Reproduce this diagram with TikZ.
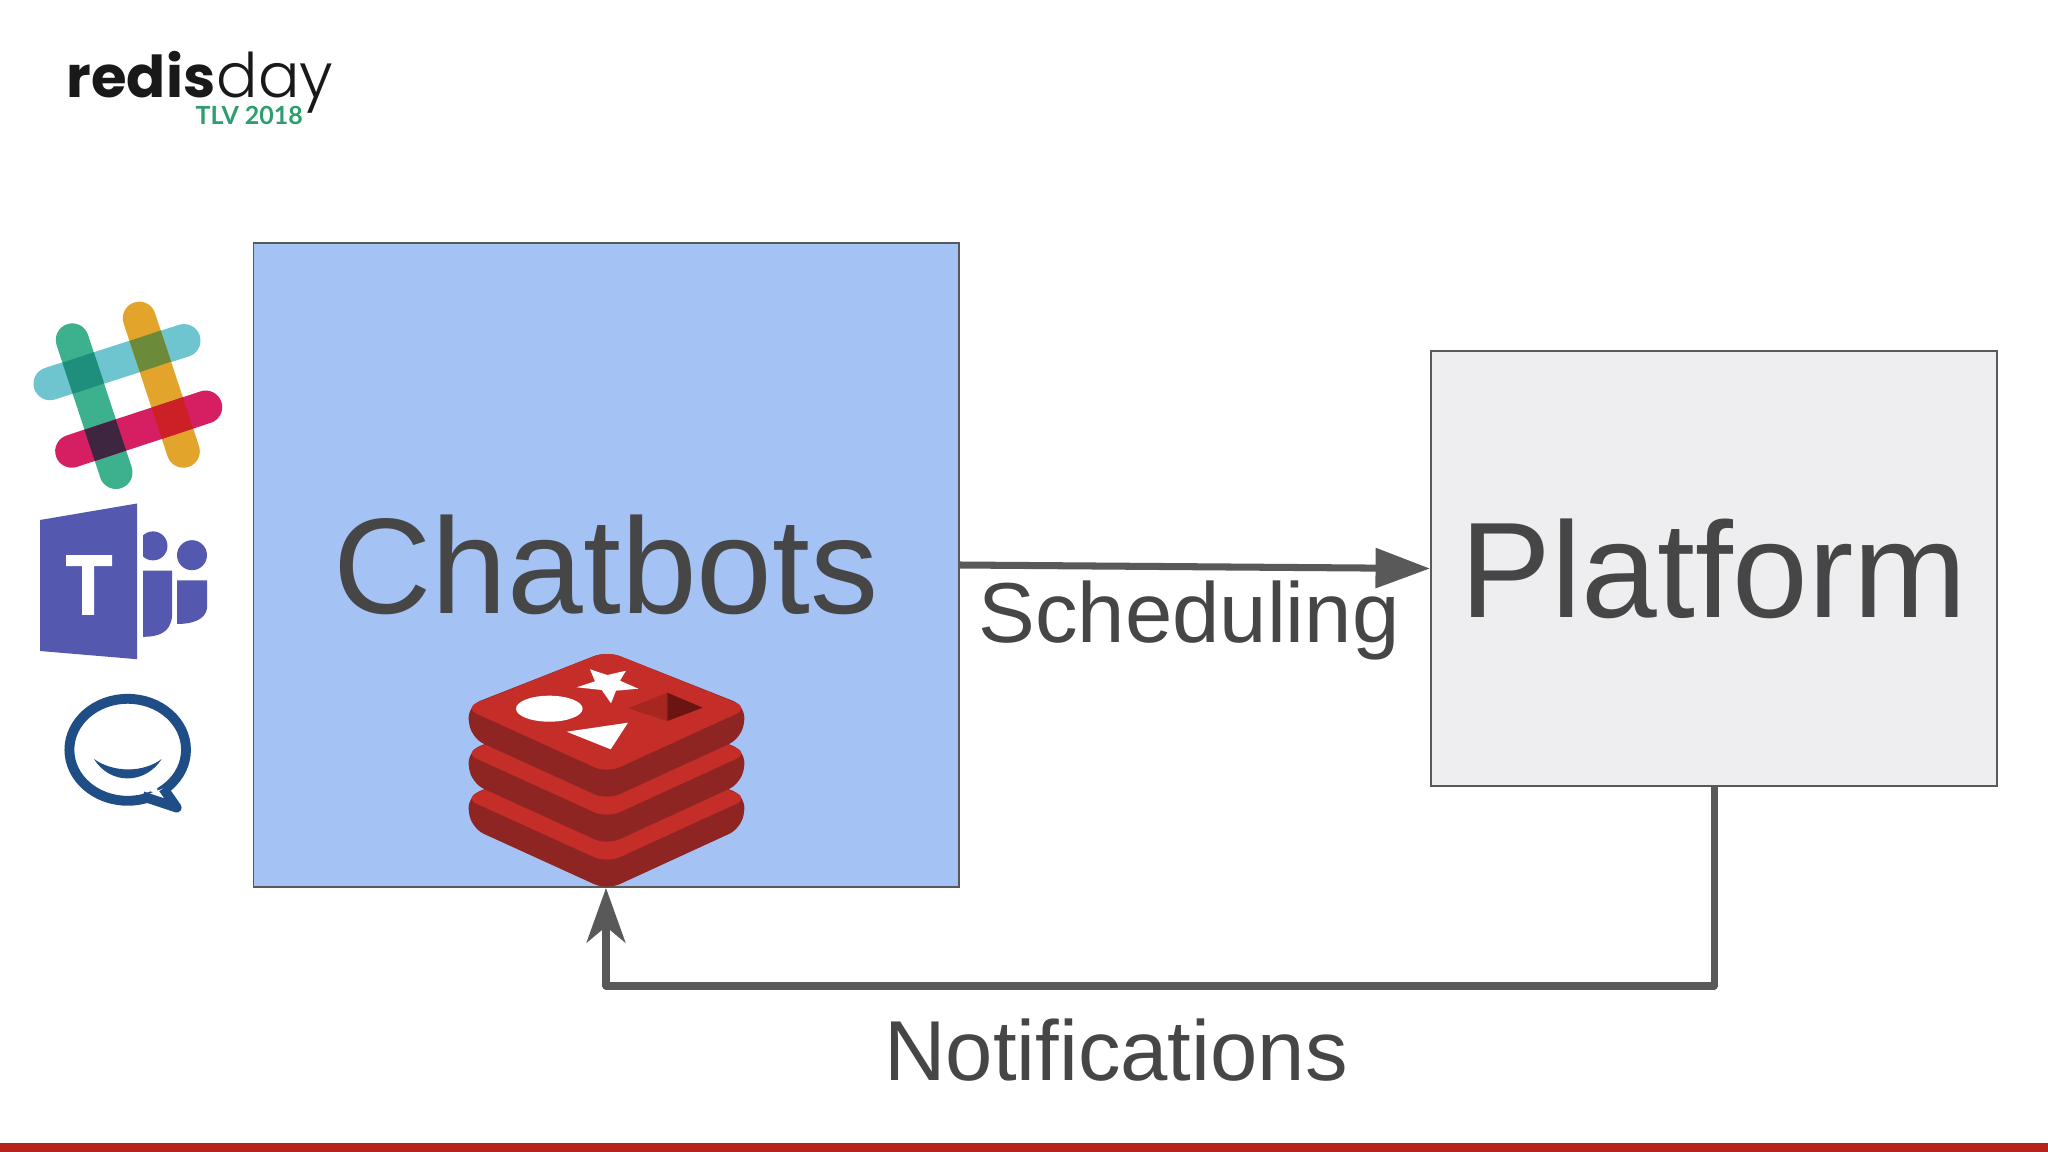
\documentclass[tikz,border=0pt]{standalone}
\usepackage{fontspec}
\usepackage{tikz}
\usetikzlibrary{arrows.meta}
\setmainfont{Liberation Sans}
\newfontfamily\logofont[UprightFont=* Light,BoldFont=* Bold]{Poppins}
\newfontfamily\tlvfont[BoldFont=* Bold]{Lato}
\definecolor{chatblue}{HTML}{A4C2F4}
\definecolor{platgrey}{HTML}{EEEEF0}
\definecolor{inkgrey}{HTML}{595959}
\definecolor{textgrey}{HTML}{464646}
\definecolor{barred}{HTML}{B5231A}
\definecolor{redface}{HTML}{C42D28}
\definecolor{redside}{HTML}{8F2522}
\definecolor{holeleft}{HTML}{A5271F}
\definecolor{holeright}{HTML}{6B1512}
\definecolor{teamsblue}{HTML}{5558AF}
\definecolor{hipblue}{HTML}{1F4E86}
\definecolor{tlvgreen}{HTML}{2E9E6E}
\definecolor{slackteal}{HTML}{6EC4CF}
\definecolor{slackgreen}{HTML}{3DB08D}
\definecolor{slackyellow}{HTML}{E3A42C}
\definecolor{slackred}{HTML}{D61F62}
\definecolor{mixteal}{HTML}{1E8F7C}
\definecolor{mixolive}{HTML}{6B8A3A}
\definecolor{mixdark}{HTML}{3E2540}
\definecolor{mixred}{HTML}{CC2027}
\begin{document}
\begin{tikzpicture}[x=0.01cm,y=-0.01cm,
    box/.style={draw=inkgrey,line width=0.45pt,text=textgrey,font=\fontsize{38.7}{40}\selectfont},
    flowtext/.style={text=textgrey,font=\fontsize{24.2}{28}\selectfont,inner sep=0pt},
    link/.style={draw=inkgrey,line width=2pt,line join=round},
    slackbar/.style={line width=9.4pt,line cap=round}]
\useasboundingbox (0,0) rectangle (2048,1152);
\fill[white] (0,0) rectangle (2048,1152);
\fill[barred] (0,1143) rectangle (2048,1152);
% Logo
\node[anchor=base west,inner sep=0pt,font=\logofont\bfseries\fontsize{16.4}{20}\selectfont,text=black!90] (redis) at (66,98) {redis};
\node[anchor=base west,inner sep=0pt,font=\logofont\fontsize{17.5}{20}\selectfont,text=black!90] (day) at (216,98) {day};
\node[anchor=base west,inner sep=0pt,font=\tlvfont\bfseries\fontsize{7.1}{9}\selectfont,text=tlvgreen] (tlv) at (195,125) {TLV 2018};
% Boxes
\node[box,fill=chatblue,minimum width=7.05cm,minimum height=6.44cm] (chat) at (606,565) {Chatbots};
\node[box,fill=platgrey,minimum width=5.66cm,minimum height=4.35cm] (plat) at (1714,568.5) {Platform};
% Slack
\draw[slackbar,color=slackteal] (50,383.7) -- (184,340.6);
\draw[slackbar,color=slackgreen] (72.3,339.9) -- (116,472.5);
\draw[slackbar,color=slackyellow] (139.3,318.2) -- (183.3,451.2);
\draw[slackbar,color=slackred] (71.7,451.2) -- (205.7,407.1);
\foreach \px/\py/\col in {83.3/373/mixteal, 150.3/351.3/mixolive, 105.3/440.2/mixdark, 172.3/418.1/mixred}
    \draw[line width=9.4pt,color=\col] (\px-5.2,\py-15.6) -- (\px+5.2,\py+15.6);
% Teams
\fill[teamsblue] (40,520) -- (137,503.5) -- (137,659.2) -- (40,651) -- cycle;
\fill[white] (66,555.2) rectangle (112,566.2) (82,566.2) rectangle (94,614.8);
\begin{scope}
\clip (143,525) rectangle (180,600);
\fill[teamsblue] (153,545.9) circle (14.5);
\end{scope}
\fill[teamsblue] (192,555.2) circle (15);
\fill[teamsblue] (143,570.7) -- (172,570.7) -- (172,617) .. controls (170,632) and (160,636.8) .. (143,636.8) -- cycle;
\fill[teamsblue] (177,580.3) -- (207,580.3) -- (207,608.6) .. controls (205,620) and (192,624) .. (177,624) -- cycle;
% HipChat
\draw[hipblue,line width=2.8pt] (127.7,749.8) ellipse [x radius=58.3,y radius=51];
\draw[hipblue,fill=white,line width=2.8pt,line join=round] (142.7,796.3) -- (176.7,807.6) -- (163.3,788.4);
\fill[white] (146,788) -- (158,796) -- (157,786) -- cycle;
\fill[hipblue,line join=round] (94,759) .. controls (113.3,772.9) and (143.3,772.9) .. (161.7,759) .. controls (145,784.9) and (110,784.9) .. (94,759) -- cycle;
% Redis
\foreach \dy in {90,45,0} {
    \begin{scope}[shift={(0,\dy)}]
    \fill[redside,rounded corners=4pt] (607,651) -- (746,706) -- (742,738) -- (607,800) -- (471,738) -- (467,706) -- cycle;
    \fill[redface,rounded corners=4pt] (607,651) -- (749,708) -- (607,773) -- (464,708) -- cycle;
    \end{scope}
}
\fill[white] (549.3,708.7) ellipse [x radius=33.3,y radius=13];
\fill[white] (590,669.3) -- (607.3,675) -- (626,670.7) -- (620,680.7) -- (638.3,688.7) -- (616,690.7) -- (611,703.3) -- (601.7,690) -- (576.7,687.3) -- (595,681.3) -- cycle;
\fill[white] (566.7,731.7) -- (628,722.7) -- (610.7,749.3) -- cycle;
\fill[holeleft] (628.3,708.3) -- (667.3,692.7) -- (667.3,721) -- cycle;
\fill[holeright] (667.3,692.7) -- (702.7,707.7) -- (667.3,721) -- cycle;
% Connections
\coordinate (turnr) at (plat.south |- 0,986);
\coordinate (turnl) at (chat.south |- 0,986);
\draw[link,-{Triangle[length=15.5pt,width=11pt]}] (chat.east) -- (plat.west);
\draw[link,-{Stealth[length=15.5pt,width=11pt,inset=4.5pt]}] (plat.south) -- (turnr) -- (turnl) -- (chat.south);
% Labels
\node[flowtext] (sched) at (1189,620) {Scheduling};
\node[flowtext] (notif) at (1116,1050) {Notifications};
\end{tikzpicture}
\end{document}
